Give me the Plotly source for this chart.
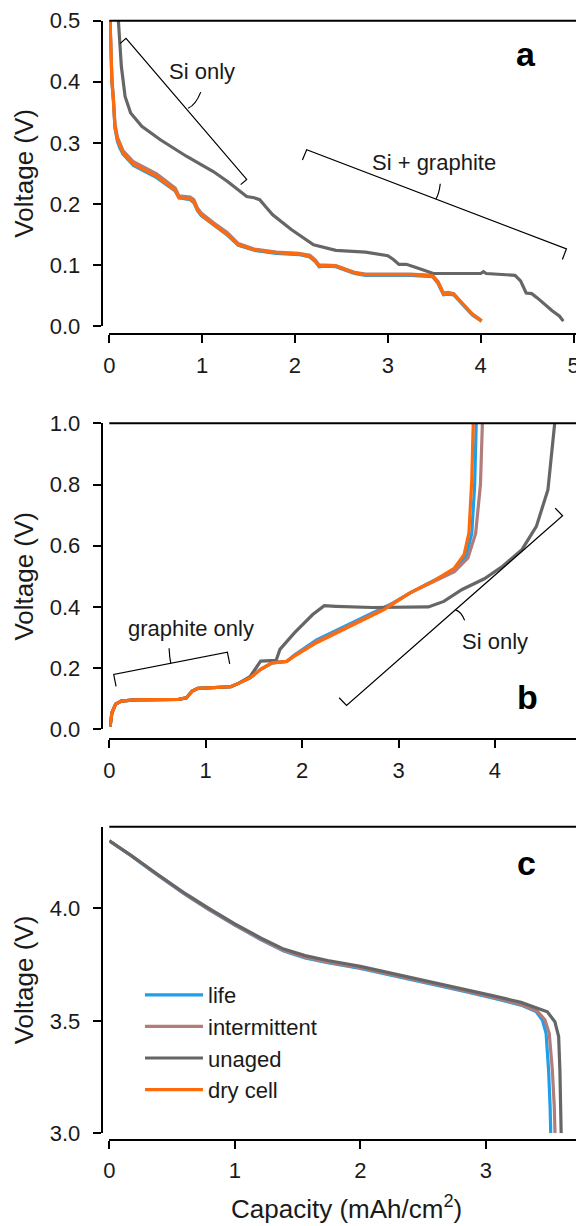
import plotly.graph_objects as go

# ---------------- data ----------------
# Panel a (lithiation)
cap_a_dry = [0.008, 0.015, 0.028, 0.044, 0.061, 0.088, 0.115, 0.149, 0.26, 0.51, 0.71, 0.75, 0.87, 0.91, 0.95,
             0.99, 1.15, 1.27, 1.39, 1.56, 1.80, 2.04, 2.16, 2.22, 2.26, 2.32, 2.44, 2.64, 2.76, 3.24,
             3.48, 3.54, 3.60, 3.65, 3.71, 3.81, 3.91, 4.01]
v_a_dry = [0.50, 0.46, 0.40, 0.37, 0.326, 0.305, 0.294, 0.283, 0.265, 0.245, 0.222, 0.210, 0.208, 0.204, 0.190,
           0.182, 0.163, 0.150, 0.133, 0.125, 0.120, 0.118, 0.114, 0.106, 0.098, 0.099, 0.098, 0.087, 0.084, 0.084,
           0.082, 0.071, 0.052, 0.053, 0.052, 0.035, 0.019, 0.008]
v_a_life = [0.50, 0.46, 0.40, 0.369, 0.324, 0.302, 0.291, 0.281, 0.263, 0.243, 0.221, 0.210, 0.207, 0.202, 0.189,
            0.181, 0.162, 0.149, 0.132, 0.124, 0.119, 0.117, 0.113, 0.105, 0.097, 0.098, 0.097, 0.086, 0.083, 0.083,
            0.081, 0.070, 0.051, 0.052, 0.051, 0.034, 0.018, 0.008]
v_a_int = [0.50, 0.465, 0.405, 0.374, 0.331, 0.309, 0.298, 0.287, 0.269, 0.249, 0.226, 0.213, 0.211, 0.207, 0.193,
           0.185, 0.166, 0.153, 0.135, 0.126, 0.121, 0.119, 0.116, 0.108, 0.100, 0.100, 0.099, 0.088, 0.085, 0.085,
           0.083, 0.073, 0.054, 0.055, 0.053, 0.036, 0.020, 0.009]
cap_a_unaged = [0.085, 0.097, 0.13, 0.17, 0.23, 0.35, 0.55, 0.83, 1.12, 1.27, 1.39, 1.48, 1.56, 1.62, 1.68, 1.76,
                1.96, 2.08, 2.20, 2.44, 2.76, 3.00, 3.06, 3.12, 3.20, 3.32, 3.49, 4.00, 4.03, 4.06, 4.37, 4.43,
                4.49, 4.55, 4.61, 4.77, 4.85, 4.89]
v_a_unaged = [0.53, 0.50, 0.425, 0.376, 0.349, 0.327, 0.305, 0.278, 0.253, 0.237, 0.223, 0.212, 0.210, 0.207, 0.196,
              0.182, 0.158, 0.146, 0.133, 0.124, 0.121, 0.115, 0.109, 0.101, 0.101, 0.095, 0.086, 0.086, 0.089,
              0.086, 0.083, 0.074, 0.054, 0.053, 0.046, 0.025, 0.016, 0.008]

# Panel b (delithiation)
cap_b_dry = [0.008, 0.027, 0.066, 0.124, 0.26, 0.72, 0.80, 0.86, 0.92, 1.03, 1.26, 1.34, 1.46, 1.57, 1.69, 1.84,
             1.92, 2.15, 2.54, 2.85, 3.12, 3.39, 3.58, 3.68, 3.73, 3.76, 3.775]
v_b_dry = [0.009, 0.054, 0.082, 0.092, 0.096, 0.098, 0.103, 0.125, 0.134, 0.136, 0.139, 0.150, 0.168, 0.196, 0.217,
           0.222, 0.239, 0.283, 0.342, 0.391, 0.446, 0.489, 0.527, 0.571, 0.641, 0.815, 1.0]
cap_b_life = [0.008, 0.027, 0.066, 0.124, 0.26, 0.72, 0.80, 0.86, 0.92, 1.03, 1.26, 1.34, 1.46, 1.57, 1.69, 1.84,
              1.92, 2.15, 2.54, 2.85, 2.95, 3.12, 3.39, 3.58, 3.70, 3.76, 3.79, 3.806]
v_b_life = [0.009, 0.054, 0.082, 0.092, 0.096, 0.098, 0.103, 0.125, 0.134, 0.136, 0.139, 0.150, 0.168, 0.196, 0.217,
            0.222, 0.243, 0.292, 0.352, 0.400, 0.414, 0.446, 0.489, 0.522, 0.565, 0.640, 0.800, 1.0]
cap_b_int = [0.008, 0.027, 0.066, 0.124, 0.26, 0.72, 0.80, 0.86, 0.92, 1.03, 1.26, 1.34, 1.46, 1.57, 1.69, 1.84,
             1.92, 2.15, 2.54, 2.85, 3.12, 3.39, 3.58, 3.72, 3.80, 3.85, 3.87]
v_b_int = [0.009, 0.054, 0.082, 0.092, 0.096, 0.098, 0.103, 0.125, 0.134, 0.136, 0.139, 0.150, 0.168, 0.196, 0.217,
           0.222, 0.241, 0.287, 0.347, 0.395, 0.446, 0.487, 0.515, 0.560, 0.640, 0.800, 1.0]
cap_b_unaged = [0.008, 0.027, 0.066, 0.124, 0.26, 0.72, 0.80, 0.86, 0.92, 1.03, 1.26, 1.34, 1.46, 1.57, 1.73, 1.77,
                1.92, 2.11, 2.23, 2.35, 2.73, 3.31, 3.47, 3.66, 3.89, 4.08, 4.28, 4.43, 4.55, 4.62]
v_b_unaged = [0.009, 0.054, 0.082, 0.092, 0.096, 0.098, 0.103, 0.125, 0.134, 0.136, 0.139, 0.150, 0.172, 0.223, 0.225,
              0.261, 0.315, 0.375, 0.404, 0.402, 0.398, 0.400, 0.418, 0.457, 0.492, 0.533, 0.587, 0.663, 0.783, 1.0]

# Panel c (full cell discharge)
cap_c_life = [0.0, 0.17, 0.38, 0.61, 0.79, 1.0, 1.21, 1.39, 1.56, 1.74, 2.0, 2.24, 2.54, 2.84, 3.07, 3.28, 3.40,
              3.45, 3.48, 3.50, 3.512, 3.517]
v_c_life = [4.30, 4.235, 4.150, 4.060, 3.995, 3.925, 3.860, 3.810, 3.780, 3.758, 3.733, 3.704, 3.667, 3.630, 3.600,
            3.570, 3.541, 3.504, 3.444, 3.280, 3.120, 3.0]
cap_c_int = [0.0, 0.17, 0.38, 0.61, 0.79, 1.0, 1.21, 1.39, 1.56, 1.74, 2.0, 2.24, 2.54, 2.84, 3.07, 3.28, 3.41,
             3.47, 3.505, 3.53, 3.545, 3.551]
v_c_int = [4.30, 4.236, 4.151, 4.061, 3.997, 3.927, 3.862, 3.813, 3.783, 3.761, 3.736, 3.707, 3.670, 3.633, 3.603,
           3.573, 3.543, 3.505, 3.444, 3.280, 3.120, 3.0]
cap_c_unaged = [0.0, 0.17, 0.38, 0.61, 0.79, 1.0, 1.21, 1.39, 1.56, 1.74, 2.0, 2.24, 2.54, 2.84, 3.07, 3.28, 3.40,
                3.49, 3.55, 3.58, 3.59, 3.60]
v_c_unaged = [4.30, 4.237, 4.153, 4.064, 4.001, 3.931, 3.867, 3.819, 3.790, 3.768, 3.742, 3.713, 3.676, 3.640, 3.610,
              3.582, 3.560, 3.540, 3.496, 3.430, 3.280, 3.0]

series_names = ["life", "intermittent", "unaged", "dry cell"]
series_colors = ["#1E9FEA", "#B27C7A", "#666666", "#FF6A0A"]

# annotation brackets (data coordinates of each panel)
brk_a_si = [(0.115, 0.4625), (0.18, 0.471), (1.48, 0.240), (1.415, 0.2315)]
brk_a_si_tick = [(0.849, 0.3565), (0.93, 0.362), (0.985, 0.383)]
brk_a_sig = [(2.08, 0.272), (2.126, 0.2887), (4.924, 0.1264), (4.88, 0.109)]
brk_a_sig_tick = [(3.517, 0.208), (3.55, 0.215), (3.565, 0.233)]
brk_b_gr = [(0.07, 0.1405), (0.046, 0.179), (1.225, 0.252), (1.249, 0.2135)]
brk_b_gr_tick = [(0.638, 0.2157), (0.625, 0.235), (0.62, 0.265)]
brk_b_si = [(2.384, 0.103), (2.461, 0.078), (4.702, 0.698), (4.625, 0.723)]
brk_b_si_tick = [(3.59, 0.3904), (3.65, 0.385), (3.686, 0.356)]

FONT = "Liberation Sans, Arial, Helvetica, sans-serif"
TXT = "#1a1a1a"
PAGE_W, PAGE_H = 584, 1226
OFF = 8  # default body margin of the html page
W, H = PAGE_W - OFF, PAGE_H - OFF


def fx(p):
    # page pixel -> paper fraction
    return (p - OFF) / W


def fy(p):
    return 1 - (p - OFF) / H


fig = go.Figure()


def add(x, y, idx, xa, ya, show):
    fig.add_trace(go.Scatter(
        x=x, y=y, mode="lines", name=series_names[idx],
        line=dict(color=series_colors[idx], width=3.2),
        xaxis=xa, yaxis=ya, showlegend=show, legendgroup=series_names[idx],
        hoverinfo="skip"))


add(cap_a_dry, v_a_life, 0, "x", "y", True)
add(cap_a_dry, v_a_int, 1, "x", "y", True)
add(cap_a_unaged, v_a_unaged, 2, "x", "y", True)
add(cap_a_dry, v_a_dry, 3, "x", "y", True)

add(cap_b_life, v_b_life, 0, "x2", "y2", False)
add(cap_b_int, v_b_int, 1, "x2", "y2", False)
add(cap_b_unaged, v_b_unaged, 2, "x2", "y2", False)
add(cap_b_dry, v_b_dry, 3, "x2", "y2", False)

add(cap_c_life, v_c_life, 0, "x3", "y3", False)
add(cap_c_int, v_c_int, 1, "x3", "y3", False)
add(cap_c_unaged, v_c_unaged, 2, "x3", "y3", False)

tickfont = dict(family=FONT, size=22, color=TXT)
titlefont = dict(family=FONT, size=26, color=TXT)

common_x = dict(showline=True, linecolor="black", linewidth=2, ticks="outside", ticklen=8, tickwidth=2,
                tickcolor="black", showgrid=False, zeroline=False, tickfont=tickfont, anchor="free",
                ticklabelstandoff=3, automargin=False, ticklabeloverflow="allow")
common_y = dict(showline=True, linecolor="black", linewidth=2, ticks="outside", ticklen=8, tickwidth=2,
                tickcolor="black", showgrid=False, zeroline=False, tickfont=tickfont, anchor="free",
                tickformat=".1f", ticklabelstandoff=8, automargin=False,
                title=dict(text="Voltage (V)", font=titlefont, standoff=8))

x0 = fx(109.3)
fig.update_layout(
    template="none",
    width=W, height=H, margin=dict(l=0, r=0, t=0, b=0, pad=0, autoexpand=False),
    paper_bgcolor="white", plot_bgcolor="white",
    font=dict(family=FONT, color=TXT),
    xaxis=dict(common_x, domain=[x0, 1], range=[0, 5.113], tickvals=[0, 1, 2, 3, 4, 5], position=fy(334.3)),
    yaxis=dict(common_y, domain=[fy(326.0), fy(20.7)], range=[0, 0.5], tickvals=[0, 0.1, 0.2, 0.3, 0.4, 0.5],
               position=fx(101.7)),
    xaxis2=dict(common_x, domain=[x0, 1], range=[0, 4.924], tickvals=[0, 1, 2, 3, 4], position=fy(739.3)),
    yaxis2=dict(common_y, domain=[fy(729.3), fy(423.3)], range=[0, 1.0], tickvals=[0, 0.2, 0.4, 0.6, 0.8, 1.0],
                position=fx(101.7)),
    xaxis3=dict(common_x, domain=[x0, 1], range=[0, 3.782], tickvals=[0, 1, 2, 3], position=fy(1140.0),
                title=dict(text="Capacity (mAh/cm<sup>2</sup>)", font=titlefont, standoff=16)),
    yaxis3=dict(common_y, domain=[fy(1133.3), fy(826.7)], range=[3.0, 4.363], tickvals=[3.0, 3.5, 4.0],
                position=fx(101.7)),
    legend=dict(x=fx(140), y=fy(974), xanchor="left", yanchor="top", bgcolor="rgba(0,0,0,0)",
                font=dict(family=FONT, size=22, color=TXT), itemwidth=58, tracegroupgap=0),
    showlegend=True,
)

shapes = []
# top frame lines
for xa, ya in [("x", "y"), ("x2", "y2"), ("x3", "y3")]:
    shapes.append(dict(type="line", xref=xa + " domain", yref=ya + " domain", x0=0, x1=1, y0=1, y1=1,
                       line=dict(color="black", width=2)))


def poly(pts, xa, ya):
    d = "M " + " L ".join(f"{x},{y}" for x, y in pts)
    return dict(type="path", path=d, xref=xa, yref=ya, line=dict(color="black", width=1.2))


def curve(pts, xa, ya):
    (a, b), (c, d), (e, f) = pts
    return dict(type="path", path=f"M {a},{b} Q {c},{d} {e},{f}", xref=xa, yref=ya,
                line=dict(color="black", width=1.2))


shapes += [poly(brk_a_si, "x", "y"), curve(brk_a_si_tick, "x", "y"),
           poly(brk_a_sig, "x", "y"), curve(brk_a_sig_tick, "x", "y"),
           poly(brk_b_gr, "x2", "y2"), curve(brk_b_gr_tick, "x2", "y2"),
           poly(brk_b_si, "x2", "y2"), curve(brk_b_si_tick, "x2", "y2")]
fig.update_layout(shapes=shapes)

annfont = dict(family=FONT, size=22, color=TXT)
letterfont = dict(family=FONT, size=34, color="black", weight="bold")
mid = dict(showarrow=False, xanchor="center", yanchor="middle")
annotations = [
    dict(mid, text="Si only", x=0.997, y=0.4165, xref="x", yref="y", font=annfont),
    dict(mid, text="Si + graphite", x=3.492, y=0.2675, xref="x", yref="y", font=annfont),
    dict(mid, text="graphite only", x=0.844, y=0.330, xref="x2", yref="y2", font=annfont),
    dict(mid, text="Si only", x=3.997, y=0.286, xref="x2", yref="y2", font=annfont),
    dict(mid, text="<b>a</b>", x=fx(526), y=fy(54), xref="paper", yref="paper", font=letterfont),
    dict(mid, text="<b>b</b>", x=fx(527), y=fy(697), xref="paper", yref="paper", font=letterfont),
    dict(mid, text="<b>c</b>", x=fx(526), y=fy(863), xref="paper", yref="paper", font=letterfont),
]
fig.update_layout(annotations=annotations)

fig.write_html("out.html")
